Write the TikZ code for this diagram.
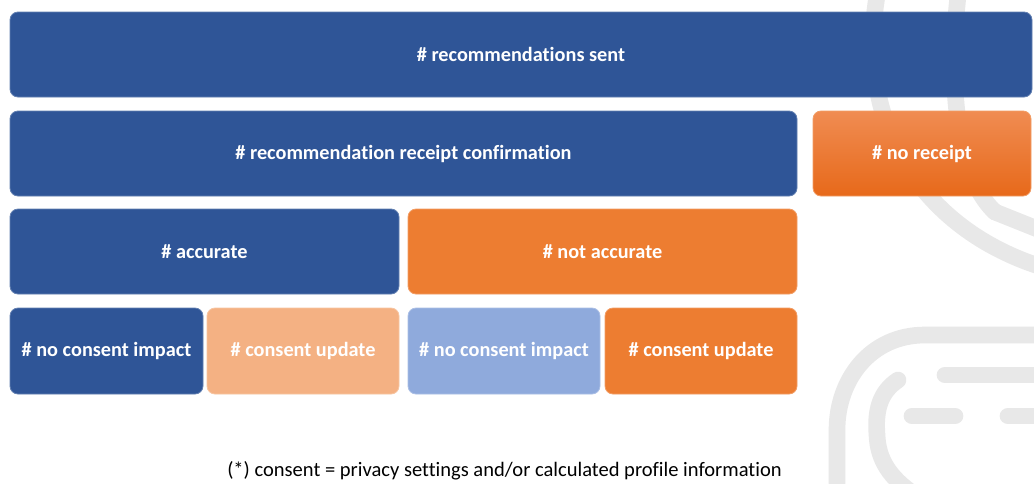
\documentclass[tikz,border=0pt]{standalone}
\usepackage{fontspec}
\setmainfont[Ligatures=NoCommon]{Carlito}
\definecolor{dblue}{HTML}{2F5597}
\definecolor{orng}{HTML}{ED7D31}
\definecolor{lorng}{HTML}{F4B183}
\definecolor{lblue}{HTML}{8FAADC}
\definecolor{grtop}{HTML}{F08C52}
\definecolor{grbot}{HTML}{E7691A}
\definecolor{wm}{HTML}{E8E8E8}
\begin{document}
\begin{tikzpicture}[x=0.75pt,y=-0.75pt,
  box/.style={rounded corners=6pt, inner sep=0pt, text=white,
    font=\fontsize{15.2}{18}\selectfont\bfseries, line width=0.6pt},
  sz/.style 2 args={minimum width=#1*0.75pt, minimum height=#2*0.75pt},
  bluebox/.style={box, fill=dblue, draw=dblue!75!white},
  orangebox/.style={box, fill=orng, draw=orng!75!white},
  lorangebox/.style={box, fill=lorng, draw=lorng!75!white},
  lbluebox/.style={box, fill=lblue, draw=lblue!75!white},
  gradbox/.style={box, top color=grtop, bottom color=grbot, draw=orng!75!white},
  wmline/.style={draw=wm, line width=12.5pt, line cap=round}]
\path[use as bounding box, fill=white] (0,0) rectangle (1034,483);
% watermark
\draw[wmline] (880,-20) .. controls (850,120) and (920,230) .. (1045,268);
\draw[wmline] (960,-20) .. controls (945,90) and (960,180) .. (995,212);
\draw[wmline] (995,212) -- (1045,232);
\draw[wmline] (1045,335) -- (925,335) .. controls (870,335) and (837,380) .. (837,430) -- (837,495);
\draw[wmline] (898,380) .. controls (880,392) and (875,410) .. (877,435) .. controls (878,460) and (890,478) .. (915,495);
\draw[wmline] (945,375) -- (1045,375);
\draw[wmline] (912,416) -- (955,416);
\draw[wmline] (1008,416) -- (1045,416);
% boxes
\node[bluebox, sz={1022}{85}] (sent) at (521,54.5) {\# recommendations sent};
\node[bluebox, sz={787}{85}] (conf) at (403.5,153.5) {\# recommendation receipt confirmation};
\node[gradbox, sz={218}{85}] (norec) at (922,153.5) {\# no receipt};
\node[bluebox, sz={389}{85}] (acc) at (204.5,251.5) {\# accurate};
\node[orangebox, sz={389}{85}] (nacc) at (602.5,251.5) {\# not accurate};
\node[bluebox, sz={193}{86}] (anc) at (106.5,351) {\# no consent impact};
\node[lorangebox, sz={192}{86}] (acu) at (303,351) {\# consent update};
\node[lbluebox, sz={192}{86}] (nnc) at (504,351) {\# no consent impact};
\node[orangebox, sz={192}{86}] (ncu) at (701,351) {\# consent update};
\node[font=\fontsize{15.4}{18}\selectfont, inner sep=0pt] (foot) at (504.5,471) {(*) consent = privacy settings and/or calculated profile information};
\end{tikzpicture}
\end{document}
